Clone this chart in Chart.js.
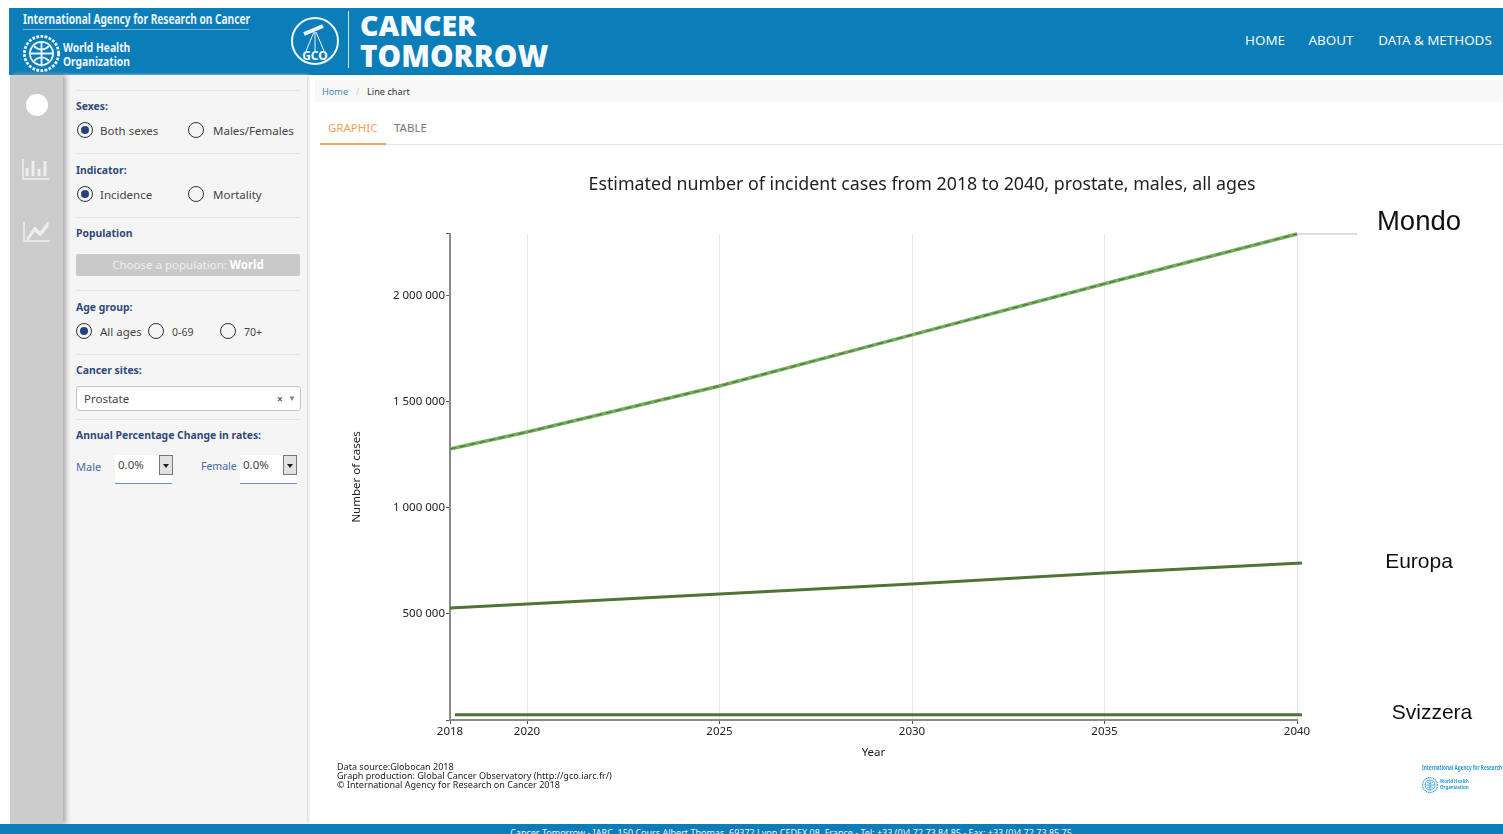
<!DOCTYPE html>
<html>
<head>
<meta charset="utf-8">
<title>Cancer Tomorrow</title>
<script src="https://cdn.jsdelivr.net/npm/chart.js@4"></script>
<style>
html, body { margin: 0; padding: 0; width: 1503px; height: 834px; overflow: hidden; background: #fff; font-family: "Noto Sans", sans-serif; }
.box { position: absolute; }
.t { position: absolute; white-space: nowrap; line-height: 1; transform: translateY(-50%); }
.c { transform: translate(-50%, -50%); }
.narrow { transform-origin: left center; font-weight: 700; }
.lbl { font-size: 10.4px; font-weight: 700; color: #2f4a78; }
.opt { font-size: 11.5px; color: #444; }
.sep { position: absolute; left: 75px; width: 225px; height: 1px; background: #e4e4e4; }
.radio { position: absolute; width: 14px; height: 14px; border: 1.7px solid #333; border-radius: 50%; transform: translate(-50%, -50%); }
.radio.on::after { content: ""; position: absolute; left: 3px; top: 3px; width: 8px; height: 8px; border-radius: 50%; background: #24427e; }
.spin { position: absolute; width: 12px; height: 18px; background: #e2e2e2; border: 1px solid #777; }
.spin::after { content: ""; position: absolute; left: 3px; top: 8px; border: 3px solid transparent; border-top: 4px solid #222; }
.anno { position: absolute; font-family: "Liberation Sans", Arial, sans-serif; color: #111; white-space: nowrap; line-height: 1; transform: translate(-50%, -50%); }
.note { font-size: 9.05px; color: #222; }
#chartWrap { position: absolute; left: 341px; top: 160px; width: 1162px; height: 620px; }
</style>
</head>
<body>
<svg width="0" height="0" style="position:absolute">
  <symbol id="who" viewBox="0 0 40 40">
    <circle cx="20" cy="20" r="18.5" fill="none" stroke="currentColor" stroke-width="3" stroke-dasharray="3 1.5"/>
    <circle cx="20" cy="20" r="12.5" fill="none" stroke="currentColor" stroke-width="2"/>
    <path d="M7.5 20H32.5M20 7.5V34M12 12C17 17 23 17 28 12M12 28C17 23 23 23 28 28" fill="none" stroke="currentColor" stroke-width="2"/>
  </symbol>
</svg>

<!-- header -->
<div class="box" style="left:9px;top:8px;width:1494px;height:67px;background:#0b7db8"></div>
<div class="t narrow" style="left:23px;top:18px;font-size:15px;color:#e9f3f9;transform:translateY(-50%) scaleX(.677)">International Agency for Research on Cancer</div>
<div class="box" style="left:23px;top:29px;width:226px;height:1px;background:#6fb2d6"></div>
<svg class="box" style="left:23px;top:35px;color:#eef6fa" width="37" height="37"><use href="#who"/></svg>
<div class="t narrow" style="left:63px;top:47px;font-size:13px;color:#eef6fa;transform:translateY(-50%) scaleX(.79)">World Health</div>
<div class="t narrow" style="left:63px;top:61px;font-size:13px;color:#eef6fa;transform:translateY(-50%) scaleX(.79)">Organization</div>
<svg class="box" style="left:290px;top:12px" width="50" height="56" viewBox="0 0 50 56">
  <circle cx="25" cy="29" r="23" fill="none" stroke="#f2f8fb" stroke-width="2"/>
  <path d="M14 22L33 14" stroke="#f2f8fb" stroke-width="4"/>
  <path d="M24 20L16 39M25 20V39M26 20L34 39" stroke="#f2f8fb" stroke-width="1" fill="none"/>
  <text x="25" y="48" font-size="12" font-weight="700" text-anchor="middle" fill="#f2f8fb" font-family="Noto Sans">GCO</text>
</svg>
<div class="box" style="left:348px;top:11px;width:1px;height:57px;background:#cfe6f2"></div>
<div class="t" style="left:360px;top:25px;font:800 28.5px 'Open Sans','Noto Sans';color:#f6fafc">CANCER</div>
<div class="t" style="left:360px;top:55px;font:800 29.7px 'Open Sans','Noto Sans';color:#f6fafc">TOMORROW</div>
<div class="t c" style="left:1265px;top:41px;font-size:13.4px;color:#f2f8fb">HOME</div>
<div class="t c" style="left:1331px;top:41px;font-size:13.4px;color:#f2f8fb">ABOUT</div>
<div class="t c" style="left:1435px;top:41px;font-size:13.4px;color:#f2f8fb">DATA &amp; METHODS</div>

<!-- icon rail and filter panel -->
<div class="box" style="left:63px;top:75px;width:244px;height:749px;background:#f5f5f5;box-shadow:1px 0 3px #cfcfcf"></div>
<div class="box" style="left:10px;top:75px;width:53px;height:749px;background:#cccccc;box-shadow:3px 0 5px #aaa"></div>
<svg class="box" style="left:10px;top:75px" width="53" height="180">
  <circle cx="27" cy="30" r="11" fill="#fff"/>
  <path d="M13 84V104H39" stroke="#eee" stroke-width="1.5" fill="none"/>
  <path d="M17 101V93M23 101V86M29 101V94M35 101V86" stroke="#eee" stroke-width="3" fill="none"/>
  <path d="M14 147V166H40" stroke="#eee" stroke-width="1.5" fill="none"/>
  <path d="M17 163L25 152L30 157L38 147L38 152L30 161L25 156L18 165Z" fill="#eee" stroke="#eee"/>
</svg>
<div class="sep" style="top:90px"></div>
<div class="sep" style="top:153px"></div>
<div class="sep" style="top:217px"></div>
<div class="sep" style="top:290px"></div>
<div class="sep" style="top:354px"></div>
<div class="sep" style="top:419px"></div>

<div class="t lbl" style="left:76px;top:106px">Sexes:</div>
<div class="radio on" style="left:85px;top:130px"></div>
<div class="t opt" style="left:100px;top:131px">Both sexes</div>
<div class="radio" style="left:196px;top:130px"></div>
<div class="t opt" style="left:213px;top:131px">Males/Females</div>

<div class="t lbl" style="left:76px;top:170px">Indicator:</div>
<div class="radio on" style="left:85px;top:194px"></div>
<div class="t opt" style="left:100px;top:195px">Incidence</div>
<div class="radio" style="left:196px;top:194px"></div>
<div class="t opt" style="left:213px;top:195px">Mortality</div>

<div class="t lbl" style="left:76px;top:233px">Population</div>
<div class="box" style="left:76px;top:254px;width:224px;height:22px;background:#c9c9c9;border-radius:2px"></div>
<div class="t c" style="left:188px;top:265px;font-size:11.5px;color:#eee">Choose a population: <b style="color:#fff">World</b></div>

<div class="t lbl" style="left:76px;top:307px">Age group:</div>
<div class="radio on" style="left:84px;top:331px"></div>
<div class="t opt" style="left:100px;top:332px">All ages</div>
<div class="radio" style="left:156px;top:331px"></div>
<div class="t opt" style="left:172px;top:332px;font-size:10.5px">0-69</div>
<div class="radio" style="left:228px;top:331px"></div>
<div class="t opt" style="left:244px;top:332px;font-size:10.5px">70+</div>

<div class="t lbl" style="left:76px;top:370px">Cancer sites:</div>
<div class="box" style="left:76px;top:386px;width:223px;height:23px;background:#fff;border:1px solid #c4c4c4;border-radius:3px"></div>
<div class="t opt" style="left:84px;top:399px">Prostate</div>
<div class="t" style="left:277px;top:399px;font-size:10px;font-weight:700;color:#555">×</div>
<div class="t" style="left:288px;top:398px;font-size:8px;color:#888">▼</div>

<div class="t lbl" style="left:76px;top:435px">Annual Percentage Change in rates:</div>
<div class="t opt" style="left:76px;top:466px;color:#3f6f9f;font-size:11px">Male</div>
<div class="box" style="left:115px;top:455px;width:57px;height:28px;background:#fff;border-bottom:1px solid #6b8fc0"></div>
<div class="t opt" style="left:118px;top:465px">0.0%</div>
<div class="spin" style="left:159px;top:455px"></div>
<div class="t opt" style="left:201px;top:466px;color:#3f6f9f;font-size:10.5px">Female</div>
<div class="box" style="left:240px;top:455px;width:57px;height:28px;background:#fff;border-bottom:1px solid #6b8fc0"></div>
<div class="t opt" style="left:243px;top:465px">0.0%</div>
<div class="spin" style="left:283px;top:455px"></div>

<!-- breadcrumb and tabs -->
<div class="box" style="left:315px;top:80px;width:1188px;height:22px;background:#f8f8f8"></div>
<div class="t" style="left:322px;top:92px;font-size:9.2px;color:#4b86b4">Home</div>
<div class="t" style="left:356px;top:92px;font-size:9.2px;color:#ccc">/</div>
<div class="t" style="left:367px;top:92px;font-size:9.2px;color:#333">Line chart</div>
<div class="t" style="left:328px;top:128px;font-size:11.5px;color:#f0a35e">GRAPHIC</div>
<div class="t" style="left:394px;top:128px;font-size:11.5px;color:#777">TABLE</div>
<div class="box" style="left:320px;top:144px;width:1183px;height:1px;background:#e6e6e6"></div>
<div class="box" style="left:320px;top:143px;width:66px;height:2px;background:#f0a35e"></div>

<div id="chartWrap"><canvas id="lineChart" width="1162" height="620"></canvas></div>

<!-- labels added over the chart -->
<div class="anno" style="left:1419px;top:221px;font-size:27.5px">Mondo</div>
<div class="anno" style="left:1419px;top:560px;font-size:21px">Europa</div>
<div class="anno" style="left:1432px;top:711px;font-size:21px">Svizzera</div>

<!-- source note and logo -->
<div class="t note" style="left:337px;top:767px">Data source:Globocan 2018</div>
<div class="t note" style="left:337px;top:776px">Graph production: Global Cancer Observatory (http://gco.iarc.fr/)</div>
<div class="t note" style="left:337px;top:785px">© International Agency for Research on Cancer 2018</div>
<div class="box" style="left:1422px;top:763px;width:81px;height:10px;overflow:hidden">
  <div class="narrow" style="font-size:6.5px;color:#2a9ad6;white-space:nowrap;line-height:10px;transform:scaleX(.72);transform-origin:left">International Agency for Research on Cancer</div>
</div>
<svg class="box" style="left:1422px;top:777px;color:#2a9ad6" width="16" height="16"><use href="#who"/></svg>
<div class="t narrow" style="left:1440px;top:782px;font-size:5.5px;color:#2a9ad6;transform:translateY(-50%) scaleX(.8)">World Health</div>
<div class="t narrow" style="left:1440px;top:788px;font-size:5.5px;color:#2a9ad6;transform:translateY(-50%) scaleX(.8)">Organization</div>

<!-- footer -->
<div class="box" style="left:0;top:824px;width:1503px;height:10px;background:#0b7db8;overflow:hidden">
  <div style="position:absolute;left:791px;top:4px;transform:translateX(-50%);white-space:nowrap;font-size:9px;line-height:10px;color:#eef6fa">Cancer Tomorrow - IARC, 150 Cours Albert Thomas, 69372 Lyon CEDEX 08, France - Tel: +33 (0)4 72 73 84 85 - Fax: +33 (0)4 72 73 85 75</div>
</div>

<script>
const chartTitle = 'Estimated number of incident cases from 2018 to 2040, prostate, males, all ages';
const xTickYears = [2018, 2020, 2025, 2030, 2035, 2040];
const yTickValues = [0, 500000, 1000000, 1500000, 2000000];
const yTop = 2292000;

const mondoYears = [2018, 2020, 2025, 2030, 2035, 2040];
const mondoCases = [1278000, 1358000, 1575000, 1816000, 2057000, 2292000];
const europaYears = [2018, 2020, 2025, 2030, 2035, 2040.13];
const europaCases = [528000, 547000, 594000, 641000, 693000, 740000];
const svizzeraYears = [2018.13, 2040.13];
const svizzeraCases = [25000, 25000];
const leaderYears = [2040, 2041.56];
const leaderCases = [2292000, 2292000];

function toPoints(xs, ys) {
    return xs.map((x, i) => ({ x: x, y: ys[i] }));
}

function spaced(value) {
    return String(value).replace(/\B(?=(\d{3})+$)/g, ' ');
}

// the title is centred on the whole canvas, not on the padded plot
const wideTitle = {
    id: 'wideTitle',
    beforeDraw(chart) {
        chart.titleBlock.left = 0;
        chart.titleBlock.right = chart.width;
    }
};

new Chart(document.getElementById('lineChart'), {
    type: 'line',
    plugins: [wideTitle],
    data: {
        datasets: [
            // first dataset is drawn on top
            { label: 'Mondo dashes', data: toPoints(mondoYears, mondoCases), borderColor: '#55704a', borderWidth: 1.2, borderDash: [6, 4] },
            { label: 'Mondo', data: toPoints(mondoYears, mondoCases), borderColor: '#74b05a', borderWidth: 3.5 },
            { label: 'Europa', data: toPoints(europaYears, europaCases), borderColor: '#4f7534', borderWidth: 3 },
            { label: 'Svizzera', data: toPoints(svizzeraYears, svizzeraCases), borderColor: '#4f7534', borderWidth: 3 },
            { label: 'Leader', data: toPoints(leaderYears, leaderCases), borderColor: '#bdbdbd', borderWidth: 1 }
        ]
    },
    options: {
        responsive: false,
        animation: false,
        clip: false,
        elements: { point: { radius: 0 }, line: { tension: 0 } },
        layout: { padding: { left: 0, right: 206, top: 0, bottom: 20 } },
        plugins: {
            legend: { display: false },
            tooltip: { enabled: false },
            title: {
                display: true,
                text: chartTitle,
                color: '#222',
                font: { family: 'Noto Sans', size: 17.8, weight: 'normal' },
                padding: { top: 14, bottom: 38.6 }
            }
        },
        scales: {
            x: {
                type: 'linear',
                min: 2018,
                max: 2040,
                afterBuildTicks: axis => { axis.ticks = xTickYears.map(v => ({ value: v })); },
                afterFit: axis => { axis.height = 40; },
                grid: { color: '#e6e6e6', tickColor: '#555', tickLength: 4 },
                border: { color: '#8a8a8a', width: 2 },
                ticks: {
                    autoSkip: false,
                    maxRotation: 0,
                    padding: 1,
                    color: '#222',
                    font: { family: 'Noto Sans', size: 11.5 },
                    callback: value => String(value)
                },
                title: { display: true, text: 'Year', color: '#222', font: { family: 'Noto Sans', size: 11.5 }, padding: 0 }
            },
            y: {
                min: 0,
                max: yTop,
                afterBuildTicks: axis => { axis.ticks = yTickValues.concat(yTop).map(v => ({ value: v })); },
                afterFit: axis => { axis.width = 109; },
                grid: { drawOnChartArea: false, tickColor: '#555', tickLength: 4 },
                border: { color: '#8a8a8a', width: 2 },
                ticks: {
                    autoSkip: false,
                    padding: 1,
                    color: '#222',
                    font: { family: 'Noto Sans', size: 11.5 },
                    callback: value => (value === 0 || value === yTop) ? '' : spaced(value)
                },
                title: { display: true, text: 'Number of cases', color: '#222', font: { family: 'Noto Sans', size: 11.5 }, padding: { top: 9, bottom: 0 } }
            }
        }
    }
});
</script>
</body>
</html>
